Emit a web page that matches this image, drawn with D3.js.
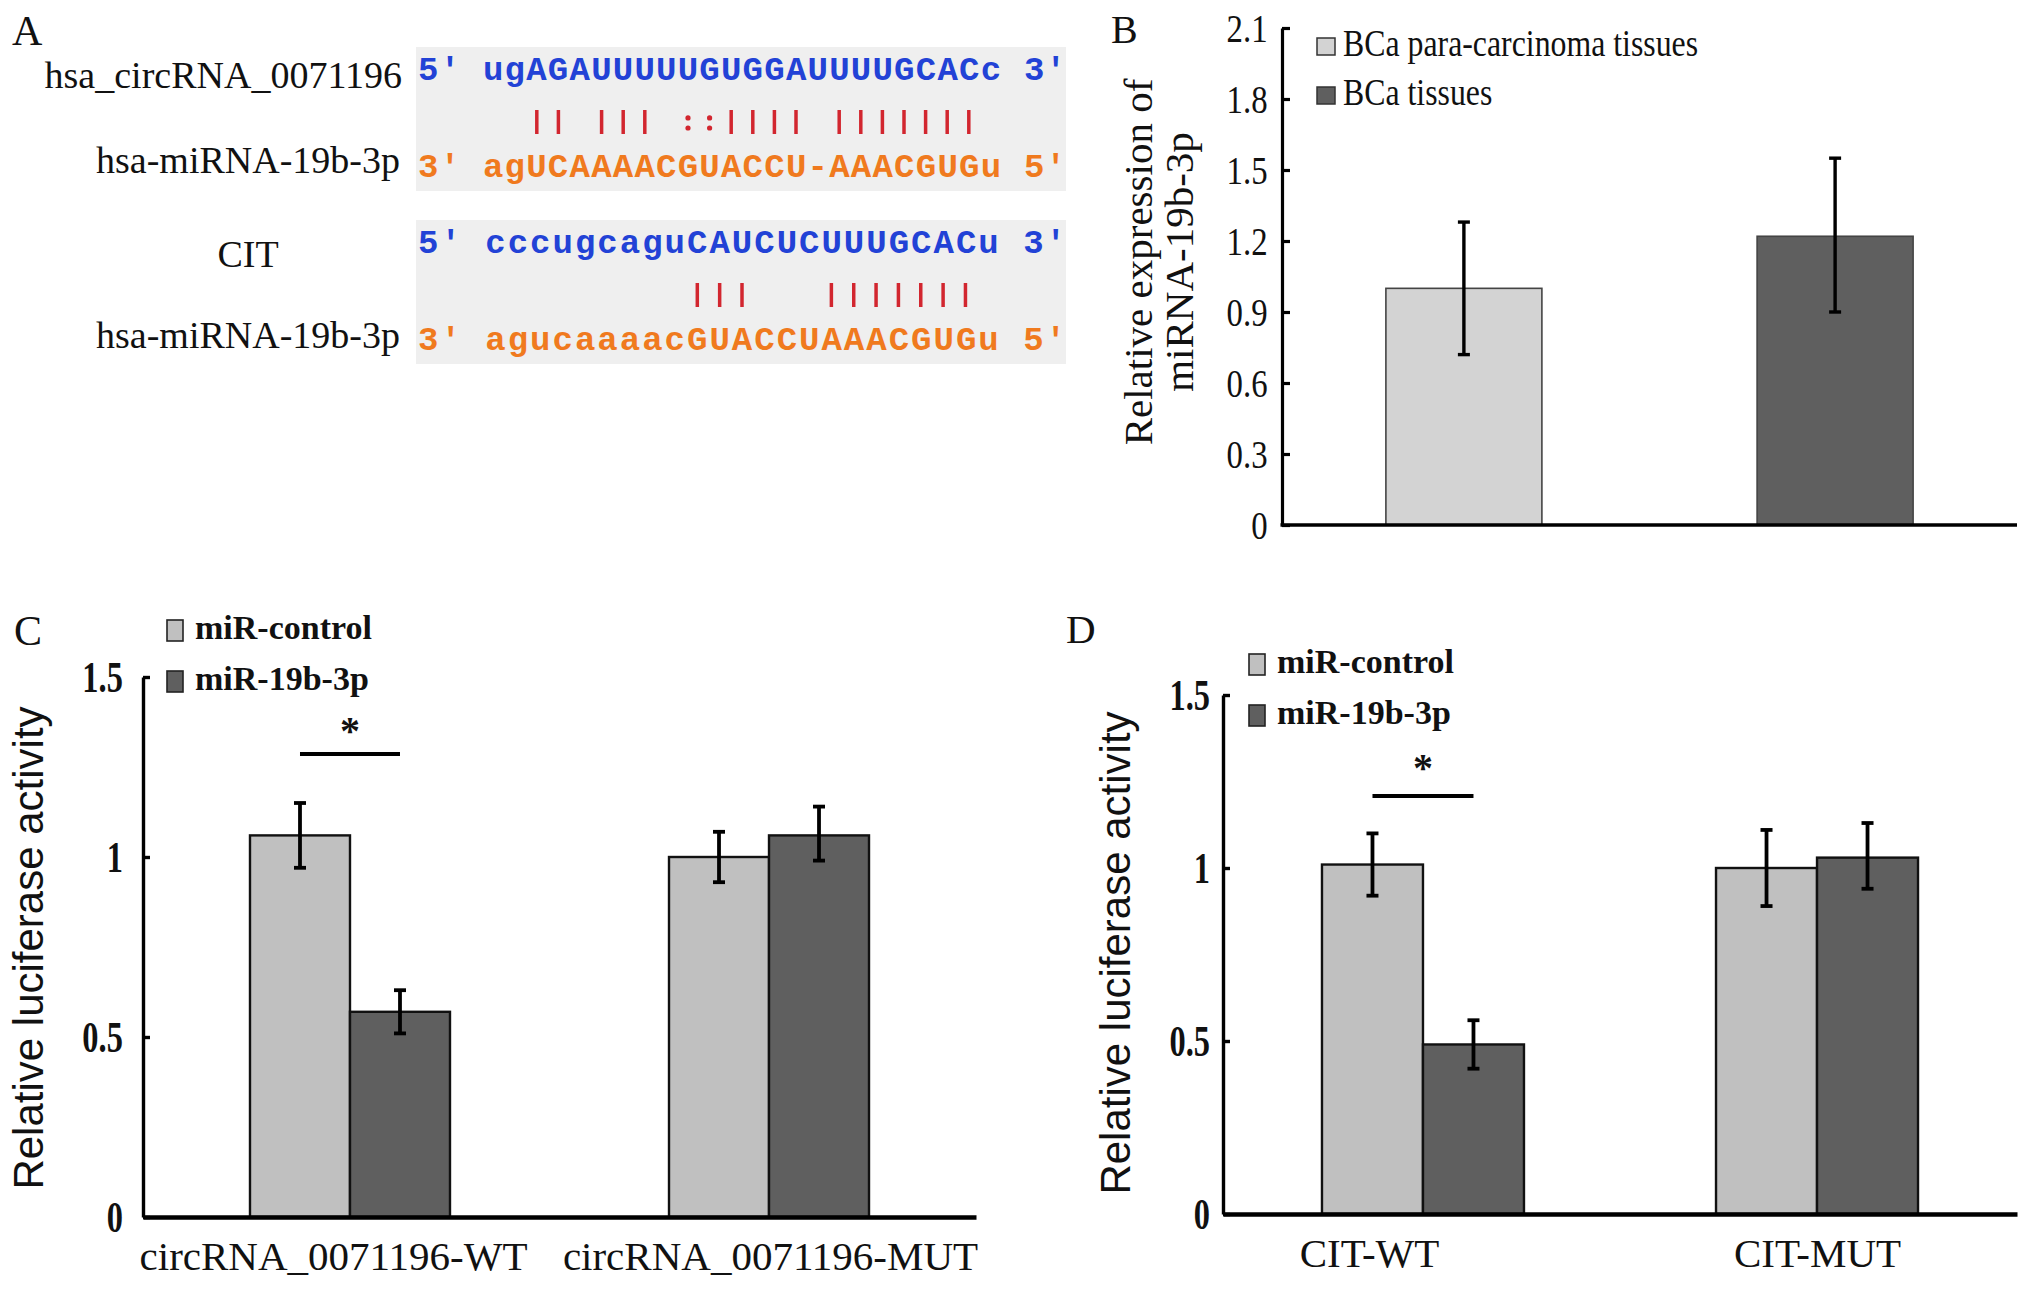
<!DOCTYPE html>
<html>
<head>
<meta charset="utf-8">
<script src="https://cdn.jsdelivr.net/npm/d3@7"></script>
<style>
  body { margin: 0; background: #fff; }
  svg text { fill: #111; }
</style>
</head>
<body>
<svg id="figure"></svg>
<script>
// ---- panel A: alignments
const alignNames = [['hsa_circRNA_0071196', 'hsa-miRNA-19b-3p'], ['CIT', 'hsa-miRNA-19b-3p']]
const targetSeqs = ['ugAGAUUUUUGUGGAUUUUGCACc', 'cccugcaguCAUCUCUUUGCACu']
const mirnaSeqs = ['agUCAAAACGUACCU-AAACGUGu', 'agucaaaacGUACCUAAACGUGu']
const pairMarks = ['  || ||| ::|||| ||||||| ', '         |||   |||||||  ']

// ---- panel B: relative expression
const bGroups = ['BCa para-carcinoma tissues', 'BCa tissues']
const bValues = [1.0, 1.22]
const bErrLow = [0.72, 0.90]
const bErrHigh = [1.28, 1.55]
const bTicks = [0, 0.3, 0.6, 0.9, 1.2, 1.5, 1.8, 2.1]

// ---- panels C and D: luciferase
const lucSeries = ['miR-control', 'miR-19b-3p']
const lucTicks = [0, 0.5, 1, 1.5]
const cGroups = ['circRNA_0071196-WT', 'circRNA_0071196-MUT']
const cValues = [[1.06, 0.57], [1.00, 1.06]]
const cErrLow = [[0.97, 0.51], [0.93, 0.99]]
const cErrHigh = [[1.15, 0.63], [1.07, 1.14]]
const dGroups = ['CIT-WT', 'CIT-MUT']
const dValues = [[1.01, 0.49], [1.00, 1.03]]
const dErrLow = [[0.92, 0.42], [0.89, 0.94]]
const dErrHigh = [[1.10, 0.56], [1.11, 1.13]]

const W = 2031, H = 1292
const serif = "'Liberation Serif', 'Times New Roman', serif"
const sans = "'Liberation Sans', Arial, sans-serif"
const mono = "'Liberation Mono', 'Courier New', monospace"

const svg = d3.select('#figure').attr('width', W).attr('height', H)
svg.append('rect').attr('width', W).attr('height', H).attr('fill', '#fff')

// panel letters
const panelLetters = ['A', 'B', 'C', 'D']
const letterPos = [[12, 45, 42], [1111, 43, 40], [14, 645, 42], [1066, 643, 41]]
svg.selectAll('.panel-letter')
  .data(panelLetters)
  .join('text')
  .attr('class', 'panel-letter')
  .attr('x', (d, i) => letterPos[i][0])
  .attr('y', (d, i) => letterPos[i][1])
  .attr('font-family', serif)
  .attr('font-size', (d, i) => letterPos[i][2])
  .text(d => d)

// ================= panel A
let drawAlignment = function () {
  const lay = {left: 416, width: 650, textLeft: 418, tops: [47, 220], height: 144,
    seqDy: 33, markTop: 63, markBottom: 87, mirDy: 130, fontSize: 34}
  const labelY = [[88, 173], [267, 348]]
  const blue = '#2242d6', orange = '#f07a1e', pairRed = '#d2262f'

  targetSeqs.forEach((seq, b) => {
    const top = lay.tops[b]
    const line1 = "5' " + seq + " 3'"
    const line2 = "3' " + mirnaSeqs[b] + " 5'"
    const nChars = line1.length
    // char index -> x
    const cx = d3.scaleLinear()
      .domain([0, nChars])
      .range([lay.textLeft, lay.textLeft + lay.width - 2])
    const g = svg.append('g')
    g.append('rect')
      .attr('x', lay.left)
      .attr('y', top)
      .attr('width', lay.width)
      .attr('height', lay.height)
      .attr('fill', '#efefef')
    const seqText = [[line1, lay.seqDy, blue], [line2, lay.mirDy, orange]]
    g.selectAll('text.seq')
      .data(seqText)
      .join('text')
      .attr('class', 'seq')
      .attr('x', cx(0))
      .attr('y', d => top + d[1])
      .attr('textLength', cx(nChars) - cx(0))
      .attr('lengthAdjust', 'spacing')
      .attr('font-family', mono)
      .attr('font-weight', 'bold')
      .attr('font-size', lay.fontSize)
      .style('fill', d => d[2])
      .style('white-space', 'pre')
      .text(d => d[0])

    let marks = pairMarks[b].split('').map((m, i) => ({m: m, i: i}))
    g.selectAll('line.pair')
      .data(marks.filter(d => d.m === '|'))
      .join('line')
      .attr('class', 'pair')
      .attr('x1', d => cx(d.i + 3.5))
      .attr('x2', d => cx(d.i + 3.5))
      .attr('y1', top + lay.markTop)
      .attr('y2', top + lay.markBottom)
      .attr('stroke', pairRed)
      .attr('stroke-width', 3.5)
    let wobble = marks.filter(d => d.m === ':')
    g.selectAll('circle.wobble')
      .data(wobble.flatMap(d => [[d.i, 0.33], [d.i, 0.75]]))
      .join('circle')
      .attr('class', 'wobble')
      .attr('cx', d => cx(d[0] + 3.5))
      .attr('cy', d => top + lay.markTop + d[1] * (lay.markBottom - lay.markTop))
      .attr('r', 2.6)
      .attr('fill', pairRed)

    // names on the left
    g.selectAll('text.name')
      .data(alignNames[b])
      .join('text')
      .attr('class', 'name')
      .attr('x', (d, i) => (b === 0 && i === 0) ? 402 : 248)
      .attr('y', (d, i) => labelY[b][i])
      .attr('text-anchor', (d, i) => (b === 0 && i === 0) ? 'end' : 'middle')
      .attr('font-family', serif)
      .attr('font-size', 38)
      .text(d => d)
  })
}

// ================= panel B
let drawExpression = function () {
  const lay = {xLeft: 1282, xRight: 2017, yTop: 28, y0: 525, pad: 0.49, barW: 156}
  const fills = ['#d3d3d3', '#5f5f5f']
  const y = d3.scaleLinear().domain([0, 2.1]).range([lay.y0, lay.yTop])
  const x = d3.scalePoint().domain(bGroups).range([lay.xLeft, lay.xRight]).padding(lay.pad)
  const g = svg.append('g')

  g.selectAll('rect.bar')
    .data(bGroups)
    .join('rect')
    .attr('class', 'bar')
    .attr('x', d => x(d) - lay.barW / 2)
    .attr('y', (d, i) => y(bValues[i]))
    .attr('width', lay.barW)
    .attr('height', (d, i) => y(0) - y(bValues[i]))
    .attr('fill', (d, i) => fills[i])
    .attr('stroke', '#444')
    .attr('stroke-width', 1.6)

  // error bars
  let err = g.selectAll('g.err').data(bGroups).join('g').attr('class', 'err')
  err.append('line')
    .attr('x1', d => x(d)).attr('x2', d => x(d))
    .attr('y1', (d, i) => y(bErrLow[i])).attr('y2', (d, i) => y(bErrHigh[i]))
  err.selectAll('line.cap')
    .data((d, i) => [[x(d), bErrLow[i]], [x(d), bErrHigh[i]]])
    .join('line')
    .attr('class', 'cap')
    .attr('x1', d => d[0] - 6).attr('x2', d => d[0] + 6)
    .attr('y1', d => y(d[1])).attr('y2', d => y(d[1]))
  err.selectAll('line').attr('stroke', '#000').attr('stroke-width', 3.4)

  // axes
  let ax = g.append('g')
    .attr('transform', `translate(${lay.xLeft},0)`)
    .call(d3.axisLeft(y)
      .tickValues(bTicks)
      .tickFormat(d => d === 0 ? '0' : d.toFixed(1))
      .tickSizeInner(-8)
      .tickSizeOuter(0)
      .tickPadding(18))
  ax.attr('font-family', null).attr('font-size', null)
  ax.select('.domain').attr('stroke', '#000').attr('stroke-width', 3.2)
  ax.selectAll('.tick line').attr('stroke', '#000').attr('stroke-width', 3.2)
  ax.selectAll('.tick text')
    .attr('font-family', serif)
    .attr('font-size', 41)
    .attr('transform', 'scale(0.8,1)')
    .style('fill', '#111')
  g.append('line')
    .attr('x1', lay.xLeft - 1.5).attr('x2', lay.xRight)
    .attr('y1', lay.y0).attr('y2', lay.y0)
    .attr('stroke', '#000').attr('stroke-width', 3.6)

  // y label, two lines
  const yLabel = ['Relative expression of', 'miRNA-19b-3p']
  g.selectAll('text.ylab')
    .data(yLabel)
    .join('text')
    .attr('class', 'ylab')
    .attr('transform', (d, i) => `translate(${1152 + i * 41},262) rotate(-90)`)
    .attr('text-anchor', 'middle')
    .attr('font-family', serif)
    .attr('font-size', 41)
    .text(d => d)

  // legend
  let leg = g.selectAll('g.leg')
    .data(bGroups)
    .join('g')
    .attr('class', 'leg')
    .attr('transform', (d, i) => `translate(1317,${38 + i * 49})`)
  leg.append('rect')
    .attr('width', 18).attr('height', 17)
    .attr('fill', (d, i) => fills[i])
    .attr('stroke', '#333').attr('stroke-width', 1.5)
  leg.append('text')
    .attr('transform', 'translate(26,18) scale(0.86,1)')
    .attr('font-family', serif)
    .attr('font-size', 37)
    .text(d => d)
}

// ================= panels C and D
let drawLuciferase = function (cfg) {
  const fills = ['#c0c0c0', '#5f5f5f']
  const y = d3.scaleLinear().domain([0, 1.5]).range([cfg.y0, cfg.yTop])
  const x0 = d3.scalePoint().domain(cfg.groups).range([cfg.xLeft, cfg.xRight]).padding(cfg.pad)
  const x1 = d3.scaleBand().domain(lucSeries).range([-cfg.barW, cfg.barW])
  const g = svg.append('g')

  let cells = []
  cfg.groups.forEach((grp, gi) => {
    lucSeries.forEach((s, si) => {
      cells.push({grp: grp, s: s, si: si, v: cfg.values[gi][si],
        lo: cfg.errLow[gi][si], hi: cfg.errHigh[gi][si]})
    })
  })
  let cx = d => x0(d.grp) + x1(d.s) + x1.bandwidth() / 2

  g.selectAll('rect.bar')
    .data(cells)
    .join('rect')
    .attr('class', 'bar')
    .attr('x', d => x0(d.grp) + x1(d.s))
    .attr('y', d => y(d.v))
    .attr('width', x1.bandwidth())
    .attr('height', d => y(0) - y(d.v))
    .attr('fill', d => fills[d.si])
    .attr('stroke', '#111')
    .attr('stroke-width', 2.4)

  let err = g.selectAll('g.err').data(cells).join('g').attr('class', 'err')
  err.append('line')
    .attr('x1', cx).attr('x2', cx)
    .attr('y1', d => y(d.lo)).attr('y2', d => y(d.hi))
  err.selectAll('line.cap')
    .data(d => [[cx(d), d.lo], [cx(d), d.hi]])
    .join('line')
    .attr('class', 'cap')
    .attr('x1', d => d[0] - 6).attr('x2', d => d[0] + 6)
    .attr('y1', d => y(d[1])).attr('y2', d => y(d[1]))
  err.selectAll('line').attr('stroke', '#000').attr('stroke-width', 3.8)

  // significance mark over the WT pair
  let wt = cells.filter(d => d.grp === cfg.groups[0])
  g.append('line')
    .attr('x1', cx(wt[0])).attr('x2', cx(wt[1]))
    .attr('y1', y(cfg.sigAt)).attr('y2', y(cfg.sigAt))
    .attr('stroke', '#000').attr('stroke-width', 4)
  g.append('text')
    .attr('x', (cx(wt[0]) + cx(wt[1])) / 2)
    .attr('y', y(cfg.sigAt) - cfg.starGap)
    .attr('text-anchor', 'middle')
    .attr('font-family', serif)
    .attr('font-weight', 'bold')
    .attr('font-size', 40)
    .text('*')

  // y axis
  let ax = g.append('g')
    .attr('transform', `translate(${cfg.xLeft},0)`)
    .call(d3.axisLeft(y)
      .tickValues(lucTicks)
      .tickFormat(d => String(d))
      .tickSizeInner(-7)
      .tickSizeOuter(0)
      .tickPadding(cfg.tickPad))
  ax.attr('font-family', null).attr('font-size', null)
  ax.select('.domain').attr('stroke', '#000').attr('stroke-width', 3.4)
  ax.selectAll('.tick line').attr('stroke', '#000').attr('stroke-width', 3.4)
  ax.selectAll('.tick text')
    .attr('font-family', serif)
    .attr('font-weight', 'bold')
    .attr('font-size', 45)
    .attr('transform', 'scale(0.72,1)')
    .style('fill', '#111')

  // x axis with group labels
  let xa = g.append('g')
    .attr('transform', `translate(0,${cfg.y0})`)
    .call(d3.axisBottom(x0).tickSize(0).tickSizeOuter(0))
  xa.attr('font-family', null).attr('font-size', null)
  xa.select('.domain').attr('stroke', '#000').attr('stroke-width', 4.6)
  xa.selectAll('.tick text')
    .attr('y', 53)
    .attr('dy', 0)
    .attr('dx', (d, i) => cfg.labelDx[i])
    .attr('font-family', serif)
    .attr('font-size', 41)
    .style('fill', '#111')

  g.append('text')
    .attr('transform', `translate(${cfg.yLabX},${cfg.yLabY}) rotate(-90)`)
    .attr('text-anchor', 'middle')
    .attr('font-family', sans)
    .attr('font-size', 42)
    .text('Relative luciferase activity')

  // legend
  let leg = g.selectAll('g.leg')
    .data(lucSeries)
    .join('g')
    .attr('class', 'leg')
    .attr('transform', (d, i) => `translate(${cfg.legX},${cfg.legY + i * 51})`)
  leg.append('rect')
    .attr('width', 16).attr('height', 21)
    .attr('fill', (d, i) => fills[i])
    .attr('stroke', '#222').attr('stroke-width', 1.6)
  leg.append('text')
    .attr('x', 28)
    .attr('y', 19)
    .attr('font-family', serif)
    .attr('font-weight', 'bold')
    .attr('font-size', 34)
    .text(d => d)
}

drawAlignment()
drawExpression()
drawLuciferase({groups: cGroups, values: cValues, errLow: cErrLow, errHigh: cErrHigh,
  xLeft: 143, xRight: 976, yTop: 677, y0: 1217, pad: 0.494, barW: 100,
  tickPad: 28, labelDx: [-17, 1], sigAt: 1.286, starGap: 10,
  yLabX: 43, yLabY: 948, legX: 167, legY: 620})
drawLuciferase({groups: dGroups, values: dValues, errLow: dErrLow, errHigh: dErrHigh,
  xLeft: 1223, xRight: 2017, yTop: 695, y0: 1214, pad: 0.5075, barW: 101,
  tickPad: 18, labelDx: [-54, 0], sigAt: 1.208, starGap: 15,
  yLabX: 1130, yLabY: 953, legX: 1249, legY: 654})
</script>
</body>
</html>
